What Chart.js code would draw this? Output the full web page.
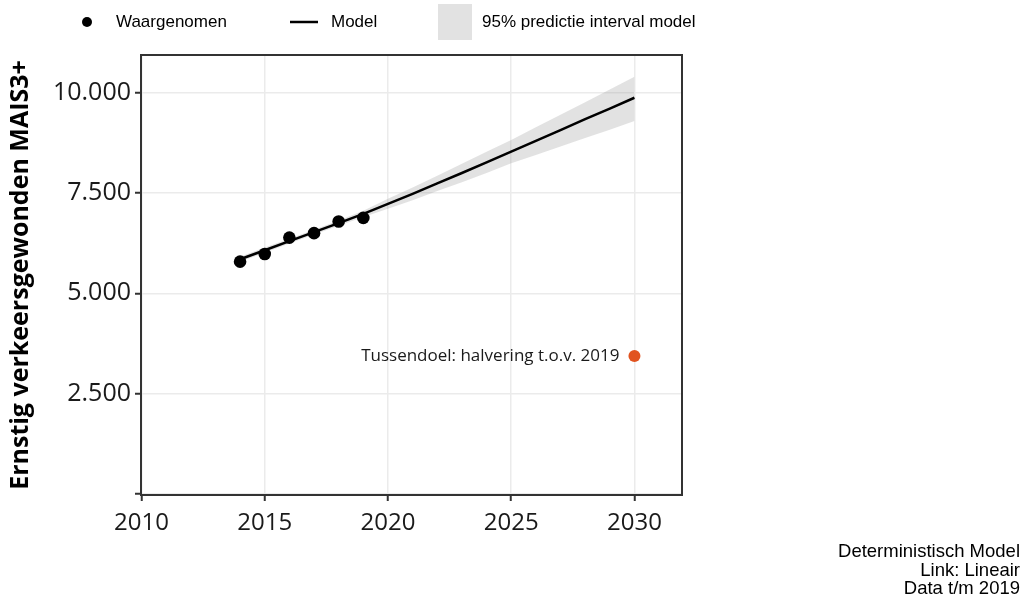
<!DOCTYPE html>
<html>
<head>
<meta charset="utf-8">
<script src="https://cdn.jsdelivr.net/npm/chart.js@4/dist/chart.umd.min.js"></script>
<style>
  html, body { margin: 0; padding: 0; background: #fff; }
  canvas { display: block; }
</style>
</head>
<body>
<canvas id="chart" width="1024" height="597"></canvas>
<script>
// Observed counts of seriously injured road casualties (MAIS3+)
const observedYears = [2014, 2015, 2016, 2017, 2018, 2019];
const observedValues = [5790, 5980, 6390, 6500, 6790, 6880];

// Deterministic linear model and its 95% prediction interval
const modelYears = [2014, 2015, 2016, 2017, 2018, 2019, 2020, 2021, 2022, 2023, 2024, 2025, 2026, 2027, 2028, 2029, 2030];
const modelValues = [5850, 6075, 6300, 6525, 6750, 6980, 7230, 7480, 7740, 8000, 8265, 8530, 8800, 9070, 9340, 9605, 9875];
const bandLower = [5790, 6010, 6240, 6465, 6685, 6900, 7110, 7320, 7550, 7770, 8000, 8240, 8450, 8660, 8870, 9080, 9295];
const bandUpper = [5910, 6140, 6360, 6585, 6815, 7060, 7360, 7640, 7930, 8230, 8530, 8820, 9140, 9450, 9760, 10080, 10400];

// Interim target: halving relative to 2019
const targetYears = [2030];
const targetValues = [3440];
const targetLabel = 'Tussendoel: halvering t.o.v. 2019';

// Axis ticks
const xTicks = [2010, 2015, 2020, 2025, 2030];
const yTicks = [0, 2500, 5000, 7500, 10000];

const yTitle = 'Ernstig verkeersgewonden MAIS3+';
const legendLabels = ['Waargenomen', 'Model', '95% predictie interval model'];
const footnoteLines = ['Deterministisch Model', 'Link: Lineair', 'Data t/m 2019'];

const pts = (xs, ys) => xs.map((x, i) => ({ x: x, y: ys[i] }));
const fmtThousands = v => v === 0 ? '' : String(v).replace(/\B(?=(\d{3})+(?!\d))/g, '.');

const TEXT_COLOR = '#1a1a1a';
const BAND_COLOR = 'rgba(150,150,150,0.28)';
const TARGET_COLOR = '#E1531F';

// Frame around the plotting panel
const panelFrame = {
  id: 'panelFrame',
  afterDatasetsDraw(chart) {
    const a = chart.chartArea, ctx = chart.ctx;
    ctx.save();
    ctx.strokeStyle = '#333';
    ctx.lineWidth = 2;
    ctx.strokeRect(a.left, a.top, a.right - a.left, a.bottom - a.top);
    ctx.restore();
  }
};

// Label next to the target point
const targetText = {
  id: 'targetText',
  afterDatasetsDraw(chart) {
    const ctx = chart.ctx;
    const x = chart.scales.x.getPixelForValue(targetYears[0]);
    const y = chart.scales.y.getPixelForValue(targetValues[0]);
    ctx.save();
    ctx.font = '17px "Open Sans"';
    ctx.fillStyle = TEXT_COLOR;
    ctx.textAlign = 'right';
    ctx.textBaseline = 'middle';
    ctx.fillText(targetLabel, x - 15, y);
    ctx.restore();
  }
};

// Legend row above the panel and footnote in the lower right corner
const legendAndNotes = {
  id: 'legendAndNotes',
  afterDraw(chart) {
    const ctx = chart.ctx;
    const ly = 22;
    ctx.save();
    ctx.font = '17px "Liberation Sans", Arial, sans-serif';
    ctx.fillStyle = '#000';
    ctx.textBaseline = 'middle';
    ctx.textAlign = 'left';

    ctx.beginPath();
    ctx.arc(87, ly, 5, 0, Math.PI * 2);
    ctx.fill();
    ctx.fillText(legendLabels[0], 116, ly);

    ctx.strokeStyle = '#000';
    ctx.lineWidth = 2.5;
    ctx.beginPath();
    ctx.moveTo(290, ly);
    ctx.lineTo(318, ly);
    ctx.stroke();
    ctx.fillText(legendLabels[1], 331, ly);

    ctx.fillStyle = BAND_COLOR;
    ctx.fillRect(438, 4, 34, 36);
    ctx.fillStyle = '#000';
    ctx.fillText(legendLabels[2], 482, ly);

    ctx.font = '18.5px "Liberation Sans", Arial, sans-serif';
    ctx.textAlign = 'right';
    footnoteLines.forEach((t, i) => ctx.fillText(t, 1020, 552 + i * 18.5));
    ctx.restore();
  }
};

new Chart(document.getElementById('chart'), {
  type: 'line',
  data: {
    datasets: [
      { label: 'lower', data: pts(modelYears, bandLower), borderWidth: 0, pointRadius: 0, fill: false, order: 4 },
      { label: legendLabels[2], data: pts(modelYears, bandUpper), borderWidth: 0, pointRadius: 0,
        fill: '-1', backgroundColor: BAND_COLOR, order: 3 },
      { label: legendLabels[1], data: pts(modelYears, modelValues), borderColor: '#000', borderWidth: 2.5,
        pointRadius: 0, fill: false, tension: 0, order: 2 },
      { label: legendLabels[0], data: pts(observedYears, observedValues), showLine: false,
        pointRadius: 6.3, backgroundColor: '#000', borderWidth: 0, order: 1 },
      { label: 'target', data: pts(targetYears, targetValues), showLine: false,
        pointRadius: 6, backgroundColor: TARGET_COLOR, borderWidth: 0, order: 0 }
    ]
  },
  options: {
    responsive: false,
    animation: false,
    devicePixelRatio: 1,
    layout: { padding: { left: 0, right: 342, top: 55, bottom: 0 } },
    plugins: { legend: { display: false }, tooltip: { enabled: false } },
    scales: {
      x: {
        type: 'linear',
        min: 2009.98,
        max: 2031.93,
        afterBuildTicks: s => { s.ticks = xTicks.map(v => ({ value: v })); },
        afterFit: s => { s.height = 102; },
        border: { display: false },
        grid: { color: '#ebebeb', lineWidth: 1.5, tickColor: '#333', tickLength: 6, tickWidth: 2 },
        ticks: { font: { family: 'Open Sans', size: 24 }, color: TEXT_COLOR, padding: 8, maxRotation: 0,
                 autoSkip: false, callback: v => String(v) }
      },
      y: {
        type: 'linear',
        min: -25,
        max: 10940,
        afterBuildTicks: s => { s.ticks = yTicks.map(v => ({ value: v })); },
        afterFit: s => { s.width = 141; },
        border: { display: false },
        grid: { color: '#ebebeb', lineWidth: 1.5, tickColor: '#333', tickLength: 6, tickWidth: 2 },
        ticks: { font: { family: 'Open Sans', size: 25 }, color: TEXT_COLOR, padding: 4, autoSkip: false,
                 callback: v => fmtThousands(v) },
        title: { display: true, text: yTitle, color: '#000',
                 font: { family: 'Open Sans', size: 25, weight: 'bold' }, padding: { top: 6, bottom: 0 } }
      }
    }
  },
  plugins: [panelFrame, targetText, legendAndNotes]
});
</script>
</body>
</html>
